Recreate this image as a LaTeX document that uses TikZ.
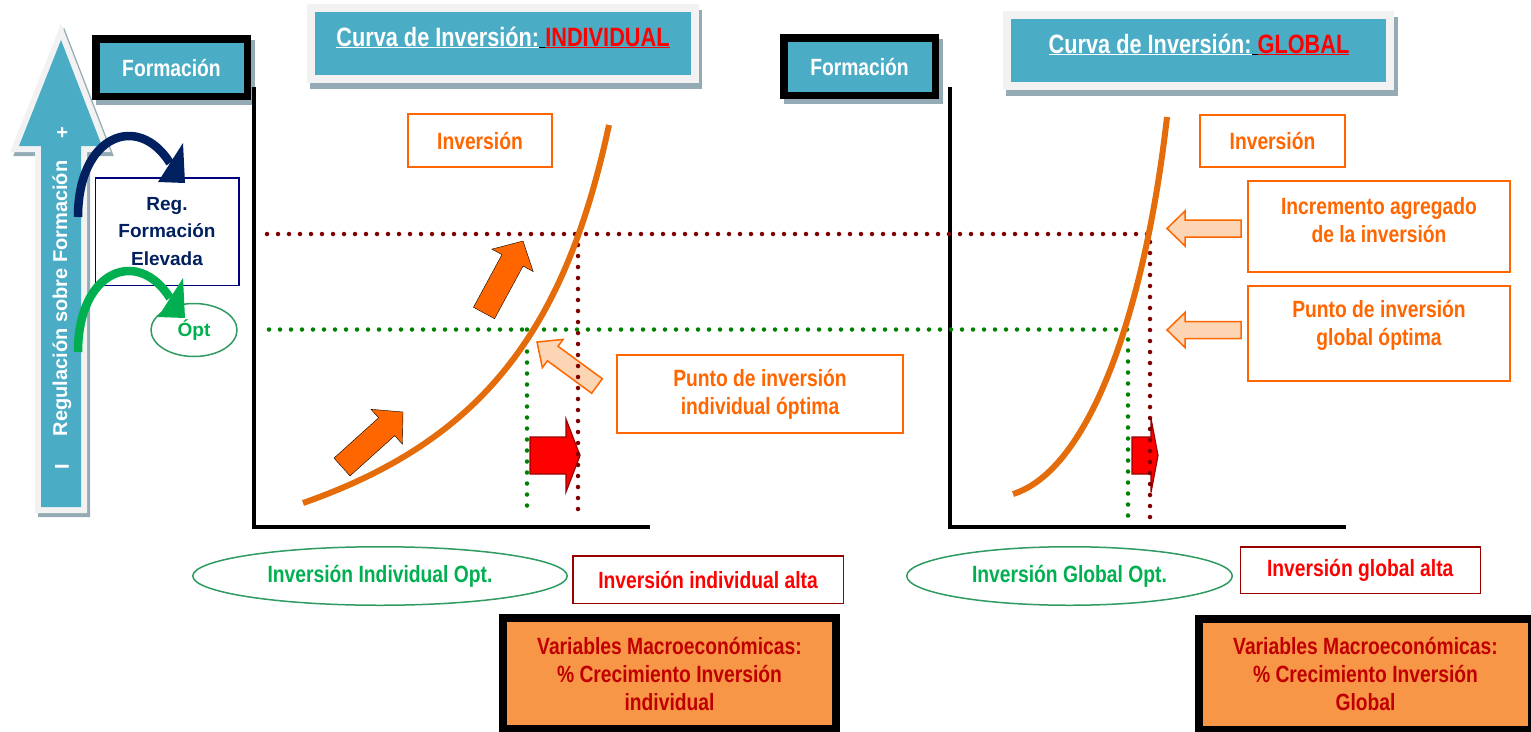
\documentclass[tikz,border=0pt]{standalone}
\usepackage{fontspec}
\setmainfont{Liberation Sans}[FakeStretch=0.82]
\newfontfamily\anchafont{Liberation Sans}
\usetikzlibrary{calc,positioning,shapes.geometric}
\tikzset{>=latex}
\definecolor{azul}{HTML}{4BACC6}
\definecolor{marco}{HTML}{F2F2F2}
\definecolor{sombra}{HTML}{94AAB4}
\definecolor{naranja}{HTML}{FF6600}
\definecolor{curvacol}{HTML}{E46C0A}
\definecolor{durazno}{HTML}{FCD5B5}
\definecolor{verde}{HTML}{00B050}
\definecolor{verdeel}{HTML}{2F9A62}
\definecolor{verdepunto}{HTML}{008000}
\definecolor{granate}{HTML}{800000}
\definecolor{marino}{HTML}{002060}
\definecolor{cajamarino}{HTML}{000080}
\definecolor{macro}{HTML}{F79646}
\definecolor{rojo}{HTML}{FF0000}
\definecolor{rojoosc}{HTML}{C00000}
\definecolor{borderojo}{HTML}{990000}

\tikzset{
  texto/.style={font=\fontsize{23.5}{28}\selectfont\bfseries, align=center},
  ancho/.style={font=\anchafont\fontsize{19}{27.5}\selectfont\bfseries, align=center},
  titular/.style={font=\fontsize{26.5}{32}\selectfont\bfseries, text=white},
  caja/.style={draw=naranja, line width=2pt, fill=white, texto, text=naranja, inner sep=0pt},
  formacion/.style={draw=black, line width=7.5pt, fill=azul, texto, text=white,
    minimum width=151.5pt, minimum height=57.5pt, inner sep=0pt},
  titulo/.style={draw=marco, line width=8pt, fill=azul, minimum width=384pt,
    minimum height=71pt, inner sep=0pt},
  macrocaja/.style={draw=black, line width=8pt, fill=macro, texto, text=rojoosc,
    minimum width=333pt, minimum height=111pt, inner sep=0pt},
  alta/.style={draw=borderojo, line width=1.5pt, fill=white, texto, text=rojo, inner sep=0pt},
  optimo/.style={ellipse, draw=verdeel, line width=1.5pt, fill=white, texto, text=verde, inner sep=0pt},
  eje/.style={line width=4.5pt, line join=miter},
  puntos/.style={line width=4.5pt, line cap=round, dash pattern=on 0pt off 11pt},
  curva/.style={draw=curvacol, line width=6pt},
  bloque/.style={fill=naranja},
  flechaclara/.style={fill=durazno, draw=naranja, line width=1.5pt},
  flecharoja/.style={fill=rojo, draw=borderojo, line width=1.2pt},
  vuelta/.style={line width=8.5pt},
}

% cola, punta, medio ancho del cuerpo, medio ancho de la cabeza, largo de la cabeza
\newcommand{\flechabloque}[6][]{%
  \coordinate (fb-t) at (#2);
  \coordinate (fb-p) at (#3);
  \coordinate (fb-h) at ($(fb-p)!#6!(fb-t)$);
  \draw[#1] ($(fb-t)!#4!90:(fb-p)$) -- ($(fb-h)!#4!-90:(fb-t)$)
    -- ($(fb-h)!#5!-90:(fb-t)$) -- (fb-p) -- ($(fb-h)!#5!90:(fb-t)$)
    -- ($(fb-h)!#4!90:(fb-t)$) -- ($(fb-t)!#4!-90:(fb-p)$) -- cycle;
}

\begin{document}
\begin{tikzpicture}[x=1pt,y=-1pt]
  \useasboundingbox (0,0) rectangle (1531,731);
  %
  % sombras de las cajas de arriba
  \fill[sombra] (310,10) rectangle (702,89);
  \fill[sombra] (1006,17) rectangle (1398,96);
  \fill[sombra] (96,40) rectangle (255,105);
  \fill[sombra] (784,39) rectangle (943,104);
  %
  \node[titulo] (tituloA) at (503,43.5) {};
  \node[titulo, minimum width=383pt] (tituloB) at (1198.5,50.5) {};
  \node[titular, anchor=base] (tituloA-txt) at (503,46)
    {\underline{Curva de Inversión:}\textcolor{black}{\underline{\ }}\textcolor{rojo}{\underline{INDIVIDUAL}}};
  \node[titular, anchor=base] (tituloB-txt) at (1199,53)
    {\underline{Curva de Inversión:}\textcolor{black}{\underline{\ }}\textcolor{rojo}{\underline{GLOBAL}}};
  %
  % ejes
  \coordinate (ejeA-y) at (254,87);
  \coordinate (ejeA-o) at (254,527);
  \coordinate (ejeA-x) at (650,527);
  \coordinate (ejeB-y) at (950,87);
  \coordinate (ejeB-o) at (950,527);
  \coordinate (ejeB-x) at (1346,527);
  \draw[eje] (ejeA-y) -- (ejeA-o) -- (ejeA-x);
  \draw[eje] (ejeB-y) -- (ejeB-o) -- (ejeB-x);
  %
  % flechas de bloque
  \coordinate (oA-cola) at (342,467);
  \coordinate (oA-punta) at (403,412);
  \coordinate (oB-cola) at (484,313);
  \coordinate (oB-punta) at (523,241);
  \coordinate (cA-cola) at (597,386);
  \coordinate (cA-punta) at (537,342);
  \coordinate (cB-cola) at (1241,228.5);
  \coordinate (cB-punta) at (1167,228.5);
  \coordinate (cC-cola) at (1241,330);
  \coordinate (cC-punta) at (1167,330);
  \coordinate (rA-cola) at (530,455.5);
  \coordinate (rA-punta) at (580,455.5);
  \coordinate (rB-cola) at (1132,455.5);
  \coordinate (rB-punta) at (1158,455.5);
  \flechabloque[bloque]{oA-cola}{oA-punta}{12pt}{23.5pt}{22pt}
  \flechabloque[bloque]{oB-cola}{oB-punta}{12pt}{23.5pt}{22pt}
  \flechabloque[flechaclara]{cA-cola}{cA-punta}{9pt}{17.5pt}{19.5pt}
  \flechabloque[flechaclara]{cB-cola}{cB-punta}{8.5pt}{17.5pt}{18pt}
  \flechabloque[flechaclara]{cC-cola}{cC-punta}{8.5pt}{17.5pt}{18pt}
  \flechabloque[flecharoja]{rA-cola}{rA-punta}{18.5pt}{36.5pt}{14pt}
  \flechabloque[flecharoja]{rB-cola}{rB-punta}{18.5pt}{37pt}{7pt}
  %
  % lineas punteadas
  \coordinate (alto-ini) at (267,234);
  \coordinate (alto-fin) at (1150,234);
  \coordinate (altoA) at (578,234);
  \coordinate (altoA-b) at (578,520);
  \coordinate (altoB-b) at (1150,528);
  \coordinate (opt-ini) at (269,329.5);
  \coordinate (opt-fin) at (1128,329.5);
  \coordinate (optA) at (527,329.5);
  \coordinate (optA-b) at (527,515);
  \coordinate (optB-b) at (1128,517);
  \draw[puntos, granate] (alto-ini) -- (alto-fin) -- (altoB-b);
  \draw[puntos, granate] (altoA) -- (altoA-b);
  \draw[puntos, verdepunto] (opt-ini) -- (opt-fin) -- (optB-b);
  \draw[puntos, verdepunto] (optA) -- (optA-b);
  %
  % curvas de inversion
  \draw[curva] (303,503) .. controls (483,440) and (565,330) .. (609,125);
  \draw[curva] (1013,494) .. controls (1090,470) and (1145,310) .. (1167,117);
  %
  % cajas de texto
  \node[caja, minimum width=144pt, minimum height=53pt] (invA) at (480,140.5) {Inversión};
  \node[caja, minimum width=145pt, minimum height=52pt] (invB) at (1272.5,141) {Inversión};
  \node[caja, minimum width=286pt, minimum height=78pt] (puntoA) at (760,394)
    {Punto de inversión\\individual óptima};
  \node[caja, minimum width=262pt, minimum height=91pt] (incrB) at (1379,226.5) {};
  \node[texto, text=naranja] (incrB-txt) at (1379,220.5) {Incremento agregado\\de la inversión};
  \node[caja, minimum width=262pt, minimum height=95pt] (puntoB) at (1379,333.5) {};
  \node[texto, text=naranja] (puntoB-txt) at (1379,325.5) {Punto de inversión\\global óptima};
  %
  % flecha de regulacion
  \def\flechareg{(61,40) -- (102,146) -- (81,146) -- (81,507) -- (41,507) -- (41,146) -- (19,146) -- cycle}
  \draw[sombra, fill=sombra, line width=12pt, shift={(3,4)}] \flechareg;
  \draw[marco, fill=marco, line width=12pt] \flechareg;
  \fill[azul] \flechareg;
  \node[rotate=90, ancho, font=\anchafont\fontsize{20}{24}\selectfont\bfseries, text=white]
    (reg-menos) at (62,467) {I};
  \node[rotate=90, ancho, font=\anchafont\fontsize{20}{24}\selectfont\bfseries, text=white]
    (reg-texto) at (62,298.5) {Regulación sobre Formación};
  \node[rotate=90, ancho, font=\anchafont\fontsize{20}{24}\selectfont\bfseries, text=white]
    (reg-mas) at (63,133) {+};
  %
  \node[formacion] (formA) at (171.5,67.5) {Formación};
  \node[formacion] (formB) at (859.5,66.5) {Formación};
  %
  \node[draw=cajamarino, line width=1.5pt, fill=white, ancho, text=marino,
    minimum width=143.5pt, minimum height=107.5pt, inner sep=0pt] (regelev) at (167,231.5)
    {Reg.\\Formación\\Elevada};
  \node[optimo, ancho, text=verde, minimum width=86pt, minimum height=53pt] (optimo) at (194,330) {Ópt};
  %
  % flechas curvas
  \coordinate (marino-ini) at (78,217);
  \coordinate (marino-fin) at (170,163);
  \coordinate (verde-ini) at (78,352);
  \coordinate (verde-fin) at (170,298);
  \draw[vuelta, marino] (marino-ini) .. controls (78,135) and (138,112) .. (marino-fin);
  \fill[marino] (183,143) -- (185,183) -- (158,182) -- cycle;
  \draw[vuelta, verde] (verde-ini) .. controls (78,270) and (138,247) .. (verde-fin);
  \fill[verde] (183,278) -- (185,318) -- (158,317) -- cycle;
  %
  % abajo
  \node[optimo, minimum width=374.5pt, minimum height=58.5pt] (optA-el) at (380,576) {Inversión Individual Opt.};
  \node[optimo, minimum width=325.5pt, minimum height=58.5pt] (optB-el) at (1069.5,576) {Inversión Global Opt.};
  \node[alta, minimum width=270.5pt, minimum height=47.5pt] (altaA) at (708,579.5) {Inversión individual alta};
  \node[alta, minimum width=240pt, minimum height=46.5pt] (altaB) at (1360.25,570) {Inversión global alta};
  \node[macrocaja] (macroA) at (669.5,673.5)
    {Variables Macroeconómicas:\\\% Crecimiento Inversión\\individual};
  \node[macrocaja] (macroB) at (1365.5,674)
    {Variables Macroeconómicas:\\\% Crecimiento Inversión\\Global};
\end{tikzpicture}
\end{document}
